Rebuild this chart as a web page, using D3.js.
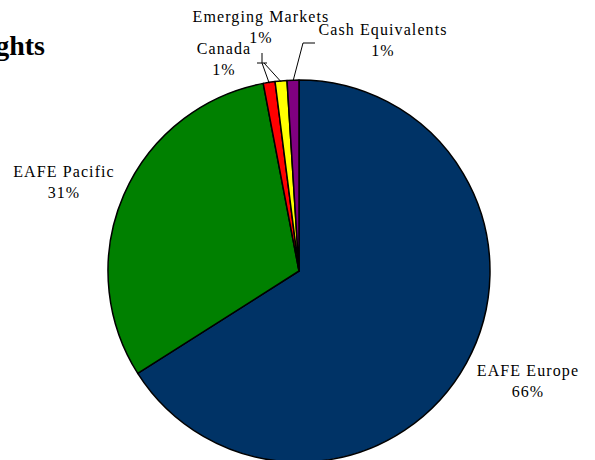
<!DOCTYPE html>
<html><head><meta charset="utf-8">
<script src="https://cdn.jsdelivr.net/npm/d3@7"></script>
<style>body{margin:0;background:#fff}svg{display:block}</style>
</head><body>
<svg id="c" width="595" height="460"></svg>
<script>
const categories = ["EAFE Europe", "EAFE Pacific", "Canada", "Emerging Markets", "Cash Equivalents"];
const values = [66, 31, 1, 1, 1];
const valueLabels = ["66%", "31%", "1%", "1%", "1%"];
const colors = ["#003366", "#008000", "#FF0000", "#FFFF00", "#800080"];
const title = "Regional Weights";

// layout (not data)
const FONT = "'Liberation Serif', 'Times New Roman', Times, serif";
const cx = 299, cy = 271, r = 191;
const labelPos = [[528, 376], [64, 177], [224, 54], [261, 22], [383, 35]];

const svg = d3.select("#c");
const pie = d3.pie().sort(null).value(d => d).startAngle(0).endAngle(2 * Math.PI);
const arcs = pie(values);
const arc = d3.arc().innerRadius(0).outerRadius(r);

svg.append("text").attr("x", 45).attr("y", 55).attr("text-anchor", "end")
  .style("font-family", FONT)
  .attr("font-weight", "bold").attr("font-size", 28).text(title);

const g = svg.append("g").attr("transform", `translate(${cx},${cy})`);
g.selectAll("path").data(arcs).enter().append("path")
  .attr("d", arc).attr("fill", (d, i) => colors[i])
  .attr("stroke", "#000").attr("stroke-width", 1.5).attr("stroke-linejoin", "round");

// leader lines for small slices
const rim = (a, rr) => [cx + rr * Math.sin(a), cy - rr * Math.cos(a)];
const mid = d => (d.startAngle + d.endAngle) / 2;
const leaders = [
  { i: 2, pts: [[257, 63], [267, 63]], from: [262, 63] },
  { i: 3, pts: [[262, 53], [262, 63]], from: [264, 63] },
  { i: 4, pts: [[303, 43], [315, 43]], from: [303, 43] }
];
leaders.forEach(L => {
  svg.append("line").attr("x1", L.pts[0][0]).attr("y1", L.pts[0][1])
    .attr("x2", L.pts[1][0]).attr("y2", L.pts[1][1])
    .attr("stroke", "#000").attr("stroke-width", 1);
  const p = rim(mid(arcs[L.i]), r - 1);
  svg.append("line").attr("x1", L.from[0]).attr("y1", L.from[1])
    .attr("x2", p[0]).attr("y2", p[1])
    .attr("stroke", "#000").attr("stroke-width", 1);
});

const lab = svg.append("g").style("font-family", FONT)
  .attr("font-size", 16).attr("fill", "#000").attr("text-anchor", "middle");
categories.forEach((c, i) => {
  const [x, y] = labelPos[i];
  lab.append("text").attr("x", x).attr("y", y).attr("letter-spacing", 1.1).text(c);
  lab.append("text").attr("x", x).attr("y", y + 21).attr("letter-spacing", 1.1).text(valueLabels[i]);
});
</script>
</body></html>
